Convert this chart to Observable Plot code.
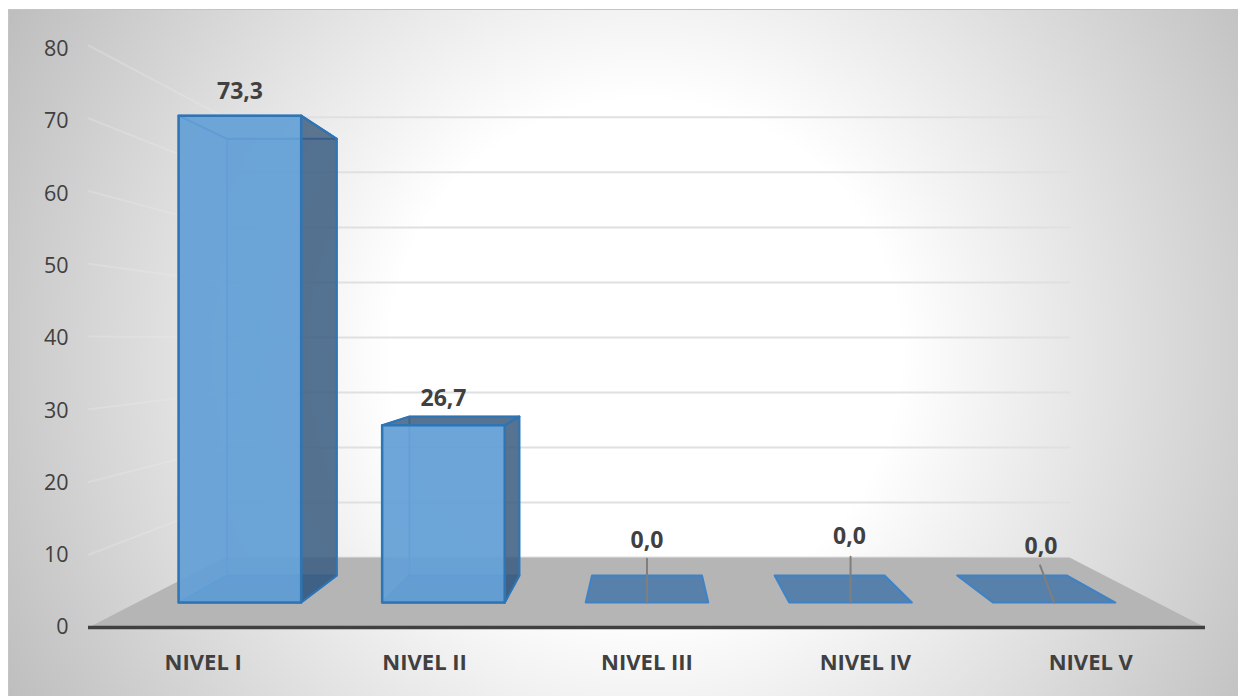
<!DOCTYPE html>
<html>
<head>
<meta charset="utf-8">
<script src="https://cdn.jsdelivr.net/npm/d3@7"></script>
<script src="https://cdn.jsdelivr.net/npm/@observablehq/plot@0.6"></script>
<style>
  html, body { margin: 0; padding: 0; background: #fff; }
  #panel {
    position: absolute; left: 8px; top: 9px; width: 1230px; height: 687px;
    box-sizing: border-box; border-top: 1px solid #c4c4c4; border-left: 1px solid #c4c4c4;
    background: radial-gradient(circle at 636px 345px, #fff 0, #fff 255px, #bdbdbd 730px);
  }
  #chart { position: absolute; left: 0; top: 0; }
</style>
</head>
<body>
<div id="panel"></div>
<div id="chart"></div>
<script>
// Chart values
const categories = ["NIVEL I", "NIVEL II", "NIVEL III", "NIVEL IV", "NIVEL V"];
const values = [73.3, 26.7, 0, 0, 0];
const yTicks = [0, 10, 20, 30, 40, 50, 60, 70, 80];

// Perspective of the 3D box: depth 0 is the front plane, depth 1 the back wall
const DEPTH_K = 0.3219;
const VANISH_X = 2.5;
const VANISH_Y = 39.45;
const BAR_HALF = 0.3005;
const BAR_FRONT = 0.296;
const BAR_BACK = 0.687;
const BAR_STEP = 0.998;
const TICK_SQUEEZE = 0.9935;

// Hand placement of labels and leader lines, in pixels and chart units
const labelNudge = [[-22, -36], [-11, -22], [0, -48], [10, -52], [9, -42]];
const categoryNudge = [3, 1, 0, -5, -3];
const leaderLift = [null, null, 6.6, 6.9, 5.6];
const leaderLean = [0, 0, 0, 0, -0.069];

const barCentre = (i) => VANISH_X + (i - 2) * BAR_STEP;

function project(cat, value, depth) {
  const s = 1 / (1 + DEPTH_K * depth);
  return { x: VANISH_X + (cat - VANISH_X) * s, y: VANISH_Y + (value - VANISH_Y) * s };
}

// Closed outline through [cat, value, depth] corners
function outline(key, corners) {
  return [...corners, corners[0]].map(([c, v, d]) => ({ key, ...project(c, v, d) }));
}

// Faces of each bar; the lid only gets a fill when it is seen from above
const faces = { back: [], left: [], bottom: [], lid: [], underside: [], right: [], front: [] };
values.forEach((v, i) => {
  const a = barCentre(i) - BAR_HALF, b = barCentre(i) + BAR_HALF;
  const f = BAR_FRONT, k = BAR_BACK;
  faces.bottom.push(...outline(i, [[a, 0, f], [b, 0, f], [b, 0, k], [a, 0, k]]));
  if (v > 0) {
    faces.back.push(...outline(i, [[a, 0, k], [b, 0, k], [b, v, k], [a, v, k]]));
    faces.left.push(...outline(i, [[a, 0, f], [a, 0, k], [a, v, k], [a, v, f]]));
    const lid = v < VANISH_Y ? faces.lid : faces.underside;
    lid.push(...outline(i, [[a, v, f], [b, v, f], [b, v, k], [a, v, k]]));
    faces.right.push(...outline(i, [[b, 0, f], [b, 0, k], [b, v, k], [b, v, f]]));
    faces.front.push(...outline(i, [[a, 0, f], [b, 0, f], [b, v, f], [a, v, f]]));
  }
});

const floor = outline(0, [[0, 0, 0], [5, 0, 0], [5, 0, 1], [0, 0, 1]]);
const backGrid = yTicks.flatMap((t) => [0, 5].map((c) => ({ key: t, ...project(c, t, 1) })));
const sideGrid = yTicks.slice(1).flatMap((t) => [0, 1].map((d) => ({ key: t, ...project(0, t, d) })));

const leaders = values.flatMap((v, i) =>
  leaderLift[i] === null ? [] : [
    { key: i, ...project(barCentre(i), v, BAR_FRONT) },
    { key: i, ...project(barCentre(i) + leaderLean[i], v + leaderLift[i], BAR_FRONT) }
  ]);

const face = (rows, options) => Plot.line(rows, { x: "x", y: "y", z: "key", ...options });
const blue = "#649fd6", edge = "#2e75b6", shade = "#3a5a7d";

const dataLabels = values.map((v, i) => {
  const p = project(barCentre(i), v, (BAR_FRONT + BAR_BACK) / 2);
  return Plot.text([v.toFixed(1).replace(".", ",")], {
    x: [p.x], y: [p.y], text: (d) => d, dx: labelNudge[i][0], dy: labelNudge[i][1],
    fontSize: 23, fontWeight: 700, fill: "#404040"
  });
});

const categoryLabels = categories.map((name, i) =>
  Plot.text([name], {
    x: [i + 0.5], y: [0], text: (d) => d, dx: categoryNudge[i], dy: 35,
    fontSize: 22, fontWeight: 700, fill: "#404040"
  }));

const chart = Plot.plot({
  width: 1238,
  height: 696,
  marginLeft: 88,
  marginRight: 33,
  marginTop: 45,
  marginBottom: 69,
  style: { background: "transparent", fontFamily: "'Open Sans', sans-serif", overflow: "visible" },
  x: { domain: [0, 5], axis: null },
  y: { domain: [0, 80], axis: null },
  marks: [
    face(sideGrid, { stroke: "#ececec", strokeWidth: 2, strokeOpacity: 0.3 }),
    face(backGrid, { stroke: "#e0e0e0", strokeWidth: 2 }),
    face(floor, { fill: "#b5b5b5", stroke: "none" }),
    face(faces.back, { fill: blue, fillOpacity: 0.3, stroke: "#5b9bd5", strokeWidth: 1.5 }),
    face(faces.left, { fill: blue, fillOpacity: 0.15, stroke: "#5b9bd5", strokeWidth: 1.5 }),
    face(faces.bottom, { fill: "#2f6aa5", fillOpacity: 0.7, stroke: "#3f82c6", strokeWidth: 2 }),
    face(faces.lid, { fill: shade, fillOpacity: 0.82, stroke: edge, strokeWidth: 2 }),
    face(faces.underside, { fill: "none", stroke: edge, strokeWidth: 2 }),
    face(faces.right, { fill: shade, fillOpacity: 0.82, stroke: edge, strokeWidth: 2 }),
    face(faces.front, { fill: blue, fillOpacity: 0.92, stroke: edge, strokeWidth: 2.5 }),
    Plot.ruleY([0], { stroke: "#404040", strokeWidth: 3.5 }),
    face(leaders, { stroke: "#7f7f7f", strokeWidth: 2 }),
    Plot.text(yTicks, {
      x: 0, y: (t) => t * TICK_SQUEEZE, text: String, dx: -20, textAnchor: "end",
      fontSize: 21.5, fill: "#404040"
    }),
    ...categoryLabels,
    ...dataLabels
  ]
});
document.getElementById("chart").append(chart);
</script>
</body>
</html>
